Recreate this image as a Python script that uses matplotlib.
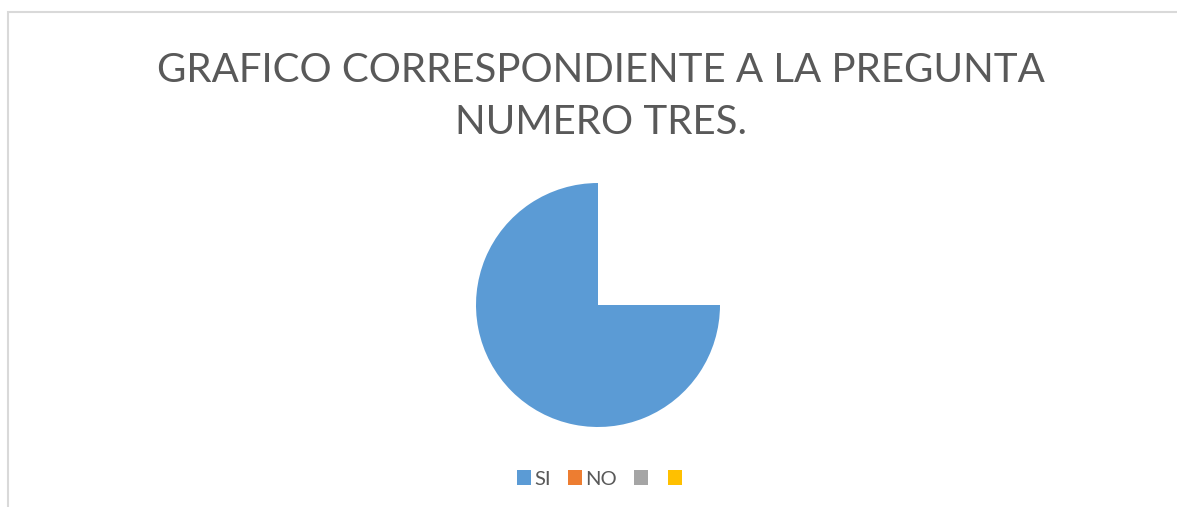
import matplotlib
matplotlib.use("Agg")
import matplotlib.pyplot as plt
from matplotlib.patches import Patch, Rectangle

# chart data (share of answers; the pie is not normalised, so the gap stays empty)
labels = ["SI", "NO", "", ""]
values = [0.75, 0.0, 0.0, 0.0]
colors = ["#5B9BD5", "#ED7D31", "#A5A5A5", "#FFC000"]
title = "GRAFICO CORRESPONDIENTE A LA PREGUNTA\nNUMERO TRES."

plt.rcParams["font.family"] = ["Lato", "DejaVu Sans"]

W, H = 1177, 507
fig = plt.figure(figsize=(W / 100, H / 100), dpi=100)

# chart frame (cut by the image edge on the right and bottom)
fig.patches.append(Rectangle((8 / W, -0.1), 1.2, (H - 12) / H + 0.1,
                             transform=fig.transFigure, fill=False,
                             edgecolor="#D9D9D9", linewidth=1.5))

fig.text(601 / W, (H - 96) / H, title, ha="center", va="center",
         fontsize=29, color="#595959", linespacing=1.5)

ax = fig.add_axes([(598 - 122) / W, (H - 427) / H, 244 / W, 244 / H])
ax.pie(values, colors=colors, startangle=90, counterclock=True,
       normalize=False, radius=1.0)
ax.set_xlim(-1, 1)
ax.set_ylim(-1, 1)
ax.set_aspect("equal")
ax.axis("off")

handles = [Patch(facecolor=c, edgecolor="none") for c in colors]
fig.legend(handles, labels, loc="center", ncol=4,
           bbox_to_anchor=(601 / W, (H - 479) / H), frameon=False,
           fontsize=14.5, labelcolor="#595959",
           handlelength=0.7, handleheight=0.7, handletextpad=0.15,
           columnspacing=0.85)

fig.savefig("out.png", dpi=100, facecolor="white")
